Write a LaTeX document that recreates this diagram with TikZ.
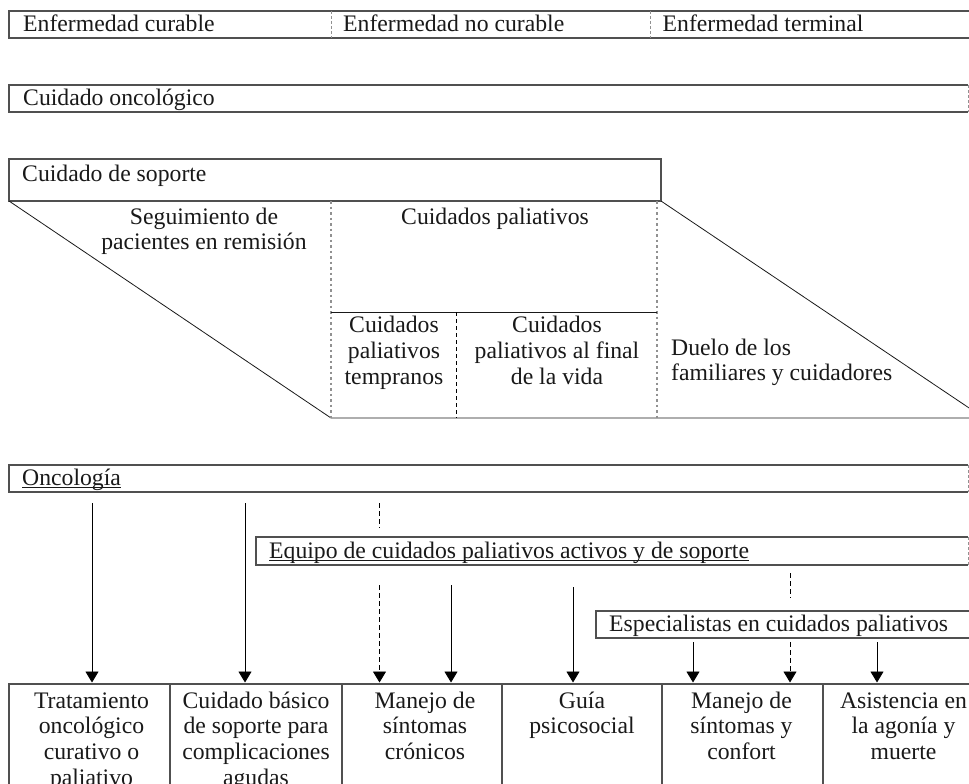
\documentclass[tikz,border=0pt]{standalone}
\usepackage{fontspec}
\setmainfont{Liberation Serif}
\usetikzlibrary{arrows.meta,calc}
\definecolor{bord}{RGB}{80,80,80}
\definecolor{ink}{RGB}{25,25,25}
\definecolor{dotg}{RGB}{145,145,145}
\newcommand\myul[1]{\setbox0\hbox{#1}\rlap{\rule[-2.6pt]{\wd0}{0.9pt}}\box0}
\begin{document}
\begin{tikzpicture}[x=1pt,y=-1pt,
  txt/.style={inner sep=0pt, font=\fontsize{23.7}{25.7}\selectfont, text=ink},
  ctxt/.style={txt, align=center},
  bline/.style={draw=bord, line width=1.3pt},
  rdash/.style={draw=dotg, line width=1pt, dash pattern=on 3pt off 2pt},
  dotv/.style={draw=dotg, line width=2.4pt, dash pattern=on 2.5pt off 3pt},
  thinl/.style={draw=ink, line width=0.8pt},
  arr/.style={draw=black, line width=0.9pt, -{Triangle[width=13pt,length=11pt]}},
  darr/.style={arr, dash pattern=on 5pt off 3pt},
  dln/.style={draw=black, line width=0.9pt, dash pattern=on 5pt off 3pt},
  area/.style={inner sep=0pt, outer sep=0pt, anchor=north west, rectangle},
  bbox/.style={area, draw=bord, line width=1.3pt, minimum height=130pt}
]
\useasboundingbox (0,0) rectangle (969,784);
\clip (0,0) rectangle (969,784);

% Row 1
\node[area, minimum width=990pt, minimum height=27pt] (enf) at (9,11) {};
\draw[bline] (enf.north east) -- (enf.north west) -- (enf.south west) -- (enf.south east);
\node[txt, anchor=base west] (e1) at (23,31.7) {Enfermedad curable};
\node[txt, anchor=base west] (e2) at (343,31.7) {Enfermedad no curable};
\node[txt, anchor=base west] (e3) at (662.5,31.7) {Enfermedad terminal};
\coordinate (s1) at (331,0);
\coordinate (s2) at (650,0);
\draw[rdash] (enf.north -| s1) -- (enf.south -| s1);
\draw[rdash] (enf.north -| s2) -- (enf.south -| s2);

% Row 2
\node[area, minimum width=959pt, minimum height=27pt] (onco) at (9,85) {};
\draw[bline] (onco.north east) -- (onco.north west) -- (onco.south west) -- (onco.south east);
\draw[rdash] (onco.north east) -- (onco.south east);
\node[txt, anchor=base west] (tonco) at (23,106) {Cuidado oncológico};

% Row 3
\node[area, draw=bord, line width=1.3pt, minimum width=652pt, minimum height=42pt] (sop) at (9,159) {};
\node[txt, anchor=base west] (tsop) at (22,181.7) {Cuidado de soporte};

\coordinate (bl) at (331,418);
\coordinate (br) at (1000,418);
\coordinate (rr) at (984,418);
\coordinate (d2) at (657,418);
\coordinate (h1) at (331,312);
\coordinate (h2) at (657,312);
\coordinate (m1) at (456,312);
\coordinate (m2) at (456,418);
\draw[thinl] (sop.south west) -- (bl) -- (br);
\draw[thinl] (sop.south east) -- (rr);
\draw[dotv] (sop.south -| bl) -- (bl);
\draw[dotv] (sop.south -| d2) -- (d2);
\draw[thinl] (h1) -- (h2);
\draw[draw=black, line width=0.8pt, dash pattern=on 4pt off 3pt] (m1) -- (m2);

% (anchor=base of a multi-line node is the baseline of its last line)
\node[ctxt, anchor=base] (seg) at (204,249.7) {Seguimiento de\\pacientes en remisión};
\node[txt, anchor=base] (cp) at (495,224) {Cuidados paliativos};
\node[ctxt, anchor=base] (cpt) at (394,384.1) {Cuidados\\paliativos\\tempranos};
\node[ctxt, anchor=base] (cpf) at (557,384.1) {Cuidados\\paliativos al final\\de la vida};
\node[txt, align=left, anchor=base west] (duel) at (671,380.7) {Duelo de los\\familiares y cuidadores};

% Row 4
\node[area, minimum width=959pt, minimum height=27pt] (onc) at (9,465) {};
\draw[bline] (onc.north east) -- (onc.north west) -- (onc.south west) -- (onc.south east);
\draw[rdash] (onc.north east) -- (onc.south east);
\node[txt, anchor=base west] (tonc) at (22,485.5) {\myul{Oncología}};

\node[area, minimum width=712pt, minimum height=28pt] (equ) at (256,537) {};
\draw[bline] (equ.north east) -- (equ.north west) -- (equ.south west) -- (equ.south east);
\draw[rdash] (equ.north east) -- (equ.south east);
\node[txt, anchor=base west] (tequ) at (269,558) {\myul{Equipo de cuidados paliativos activos y de soporte}};

\node[area, draw=bord, line width=1.3pt, minimum width=400pt, minimum height=27pt] (esp) at (596,611) {};
\node[txt, anchor=base west] (tesp) at (609,631.7) {Especialistas en cuidados paliativos};

% Bottom boxes
\node[bbox, minimum width=161pt] (b1) at (9,684) {};
\node[bbox, minimum width=172pt] (b2) at (170,684) {};
\node[bbox, minimum width=160pt] (b3) at (342,684) {};
\node[bbox, minimum width=160pt] (b4) at (502,684) {};
\node[bbox, minimum width=161pt] (b5) at (662,684) {};
\node[bbox, minimum width=161pt] (b6) at (823,684) {};

\node[ctxt, anchor=base] (tb1) at ($(b1.north)+(2,101.1)$) {Tratamiento\\oncológico\\curativo o\\paliativo};
\node[ctxt, anchor=base] (tb2) at ($(b2.north)+(0,101.1)$) {Cuidado básico\\de soporte para\\complicaciones\\agudas};
\node[ctxt, anchor=base] (tb3) at ($(b3.north)+(3,75.4)$) {Manejo de\\síntomas\\crónicos};
\node[ctxt, anchor=base] (tb4) at ($(b4.north)+(0,49.7)$) {Guía\\psicosocial};
\node[ctxt, anchor=base] (tb5) at ($(b5.north)+(-1,75.4)$) {Manejo de\\síntomas y\\confort};
\node[ctxt, anchor=base] (tb6) at ($(b6.north)+(0,75.4)$) {Asistencia en\\la agonía y\\muerte};

% Arrows
\coordinate (x1) at (92,0);
\coordinate (x2) at (245,0);
\coordinate (x3) at (379.5,0);
\coordinate (x4) at (451,0);
\coordinate (x5) at (573,0);
\coordinate (x6) at (693,0);
\coordinate (x7) at (790,0);
\coordinate (x8) at (877,0);

\draw[arr, shorten <=11pt, shorten >=1.5pt] (onc.south -| x1) -- (b1.north -| x1);
\draw[arr, shorten <=11pt, shorten >=1.5pt] (onc.south -| x2) -- (b2.north -| x2);
\draw[dln, shorten <=11pt, shorten >=9pt] (onc.south -| x3) -- (equ.north -| x3);

\draw[darr, shorten <=20pt, shorten >=1.5pt] (equ.south -| x3) -- (b3.north -| x3);
\draw[arr, shorten <=20pt, shorten >=1.5pt] (equ.south -| x4) -- (b3.north -| x4);
\draw[arr, shorten <=22pt, shorten >=1.5pt] (equ.south -| x5) -- (b4.north -| x5);
\draw[dln, shorten <=8pt, shorten >=13pt] (equ.south -| x7) -- (esp.north -| x7);

\draw[arr, shorten <=4pt, shorten >=1.5pt] (esp.south -| x6) -- (b5.north -| x6);
\draw[darr, shorten <=4pt, shorten >=1.5pt] (esp.south -| x7) -- (b5.north -| x7);
\draw[arr, shorten <=4pt, shorten >=1.5pt] (esp.south -| x8) -- (b6.north -| x8);
\end{tikzpicture}
\end{document}
